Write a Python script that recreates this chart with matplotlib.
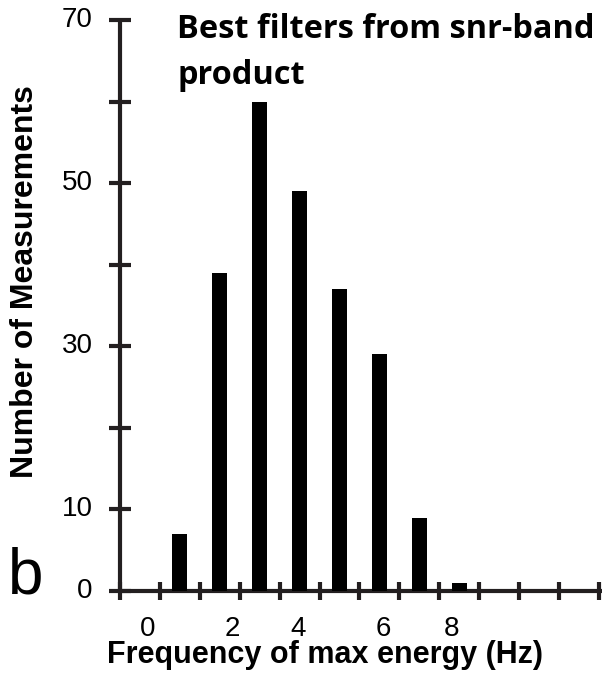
import numpy as np
import matplotlib
matplotlib.use("Agg")
import matplotlib.pyplot as plt
from matplotlib.transforms import blended_transform_factory, ScaledTranslation

# histogram of the frequency with the most energy, one bar per bin
counts = [7, 39, 60, 49, 37, 29, 9, 1]
freq_labels = ["0", "2", "4", "6", "8"]
y_labels = {0: "0", 10: "10", 30: "30", 50: "50", 70: "70"}

title = "Best filters from snr-band\nproduct"
xlabel = "Frequency of max energy (Hz)"
ylabel = "Number of Measurements"
panel = "b"

W, H = 609, 696
axis_color = "#231f20"
arial = "Liberation Sans"

fig = plt.figure(figsize=(W / 100, H / 100), dpi=100)
fig.patch.set_facecolor("white")

# axes box in pixels: x 120..602, y 20..591
ax = fig.add_axes([120 / W, (H - 591) / H, (602 - 120) / W, (591 - 20) / H])
ax.set_xlim(0, 12.08)
ax.set_ylim(0, 70)

bin_pos = np.arange(len(counts)) + 1.5
ax.bar(bin_pos, counts, width=0.38, color="black", zorder=3)

for side in ["top", "right"]:
    ax.spines[side].set_visible(False)
for side in ["left", "bottom"]:
    ax.spines[side].set_color(axis_color)
    ax.spines[side].set_linewidth(3)
    ax.spines[side].set_capstyle("butt")

ax.set_xticks(np.arange(0, 13))
ax.set_xticklabels([])
ax.tick_params(axis="x", direction="inout", length=13, width=3, color=axis_color)

yt = np.arange(0, 71, 10)
ax.set_yticks(yt)
ax.set_yticklabels([y_labels.get(v, "") for v in yt], fontsize=20, family=arial)
ax.tick_params(axis="y", direction="inout", length=16.5, width=3, color=axis_color, pad=11.5)
# numbers sit a little above their ticks
for lab in ax.get_yticklabels():
    lab.set_transform(lab.get_transform() + ScaledTranslation(0, 0.03, fig.dpi_scale_trans))

# frequency labels were placed by hand under the axis
label_x = [0.70, 2.81, 4.46, 6.59, 8.30]
trans = blended_transform_factory(ax.transData, fig.transFigure)
for x, lab in zip(label_x, freq_labels):
    ax.text(x, 1 - 636 / H, lab, transform=trans, fontsize=20, family=arial,
            ha="center", va="baseline")

fig.text(325 / W, 1 - 663 / H, xlabel, fontsize=22, fontweight="bold", family=arial,
         ha="center", va="baseline")
fig.text(25 / W, 1 - 282 / H, ylabel, fontsize=23, fontweight="bold", family=arial,
         rotation=90, ha="center", va="center")
# baseline of the last line ("product")
fig.text(177 / W, 1 - 84 / H, title, fontsize=23.4, fontweight="bold", family="Open Sans",
         ha="left", va="baseline", linespacing=1.5)
fig.text(8 / W, 1 - 593 / H, panel, fontsize=46, family=arial, ha="left", va="baseline")

fig.savefig("out.png", dpi=100, facecolor="white")
